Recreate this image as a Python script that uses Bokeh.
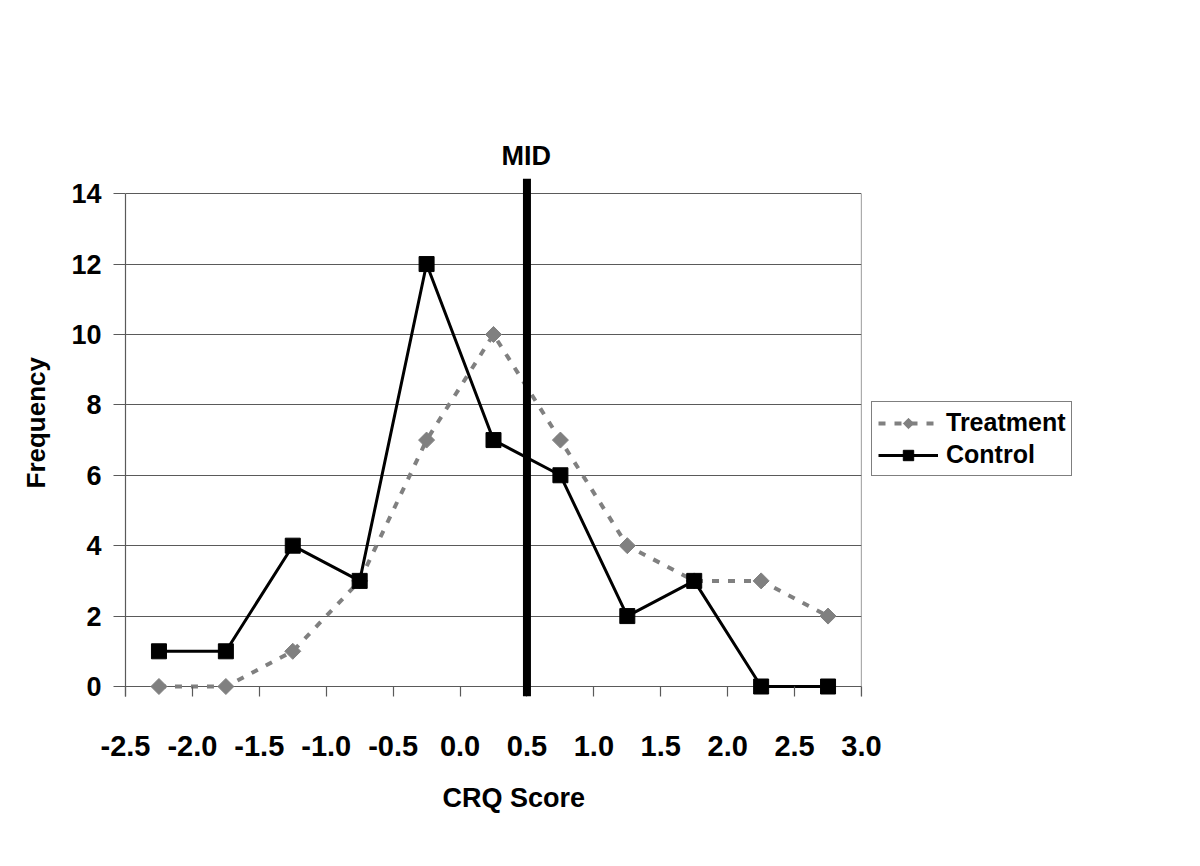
from bokeh.plotting import figure
from bokeh.models import Range1d, FixedTicker, Legend, LegendItem, Span, Title
from bokeh.embed import file_html
from bokeh.resources import INLINE

# ---- data ----
crq_bins = [-2.25, -1.75, -1.25, -0.75, -0.25, 0.25, 0.75, 1.25, 1.75, 2.25, 2.75]
treatment = [0, 0, 1, 3, 7, 10, 7, 4, 3, 3, 2]
control = [1, 1, 4, 3, 12, 7, 6, 2, 3, 0, 0]
x_tick_labels = ["-2.5", "-2.0", "-1.5", "-1.0", "-0.5", "0.0", "0.5", "1.0", "1.5", "2.0", "2.5", "3.0"]
y_ticks = [0, 2, 4, 6, 8, 10, 12, 14]
mid_value = 0.5

# ---- layout / style constants ----
FONT = "Liberation Sans"
GRID = "#5a5a5a"
X_LO, X_HI = -2.5, 3.0
Y_LO, Y_HI = -0.284, 14.43
Y_TOP = 14

x_ticks = [float(s) for s in x_tick_labels]

p = figure(frame_width=736, frame_height=518, output_backend="svg", toolbar_location=None,
           x_range=Range1d(X_LO, X_HI), y_range=Range1d(Y_LO, Y_HI))
p.min_border_left = 125
p.min_border_right = 0
p.min_border_top = 178
p.min_border_bottom = 160
p.outline_line_color = None
p.background_fill_color = "white"
p.border_fill_color = "white"

p.xgrid.visible = False
p.ygrid.ticker = FixedTicker(ticks=y_ticks)
p.ygrid.grid_line_color = GRID
p.ygrid.grid_line_width = 1.2

xa = p.xaxis[0]
xa.ticker = FixedTicker(ticks=x_ticks)
xa.major_label_overrides = {t: s for t, s in zip(x_ticks, x_tick_labels)}
xa.axis_line_color = None
xa.major_tick_in = 10
xa.major_tick_out = 0
xa.minor_tick_in = 0
xa.minor_tick_out = 0
xa.major_tick_line_color = GRID
xa.major_tick_line_width = 1.2
xa.major_label_standoff = 39
xa.major_label_text_font = FONT
xa.major_label_text_font_style = "bold"
xa.major_label_text_font_size = "29px"
xa.major_label_text_color = "black"

ya = p.yaxis[0]
ya.ticker = FixedTicker(ticks=y_ticks)
ya.bounds = (Y_LO, Y_TOP)
ya.axis_line_color = GRID
ya.axis_line_width = 1.2
ya.major_tick_in = 0
ya.major_tick_out = 12
ya.minor_tick_in = 0
ya.minor_tick_out = 0
ya.major_tick_line_color = GRID
ya.major_tick_line_width = 1.2
ya.major_label_standoff = 12
ya.major_label_text_font = FONT
ya.major_label_text_font_style = "bold"
ya.major_label_text_font_size = "27px"
ya.major_label_text_color = "black"

# right frame border
p.segment(x0=[X_HI], y0=[Y_LO], x1=[X_HI], y1=[Y_TOP], line_color=GRID, line_width=1.2)

# series
t_line = p.line(crq_bins, treatment, line_color="#808080", line_width=4, line_dash="7 9")
t_pts = p.ngon(x=crq_bins, y=treatment, radius=8, radius_units="screen", n=4,
               fill_color="#808080", line_color="#808080")
c_line = p.line(crq_bins, control, line_color="black", line_width=3)
c_pts = p.scatter(crq_bins, control, marker="square", size=15,
                  fill_color="black", line_color="black")

# MID line and label
p.add_layout(Span(location=mid_value, dimension="height", line_color="black", line_width=8))
p.title.text = "MID"
p.title.align = "left"
p.title.offset = 376
p.title.standoff = 15
p.title.text_font = FONT
p.title.text_font_style = "bold"
p.title.text_font_size = "27px"
p.title.text_color = "black"

# axis titles
p.add_layout(Title(text="CRQ Score", align="left", offset=317, standoff=45,
                   text_font=FONT, text_font_style="bold", text_font_size="27px",
                   text_color="black"), "below")
p.add_layout(Title(text="Frequency", align="left", offset=208, standoff=35,
                   text_font=FONT, text_font_style="bold", text_font_size="26px",
                   text_color="black"), "left")

legend = Legend(items=[LegendItem(label="Treatment", renderers=[t_line, t_pts]),
                       LegendItem(label="Control", renderers=[c_line, c_pts])],
                location=(10, 220))
legend.glyph_width = 60
legend.glyph_height = 26
legend.label_height = 26
legend.label_standoff = 8
legend.padding = 6
legend.spacing = 3
legend.margin = 10
legend.border_line_color = "black"
legend.border_line_width = 1
legend.label_text_font = FONT
legend.label_text_font_style = "bold"
legend.label_text_font_size = "25px"
legend.label_text_color = "black"
legend.background_fill_color = "white"
p.add_layout(legend, "right")

open("out.html", "w").write(file_html(p, INLINE))
